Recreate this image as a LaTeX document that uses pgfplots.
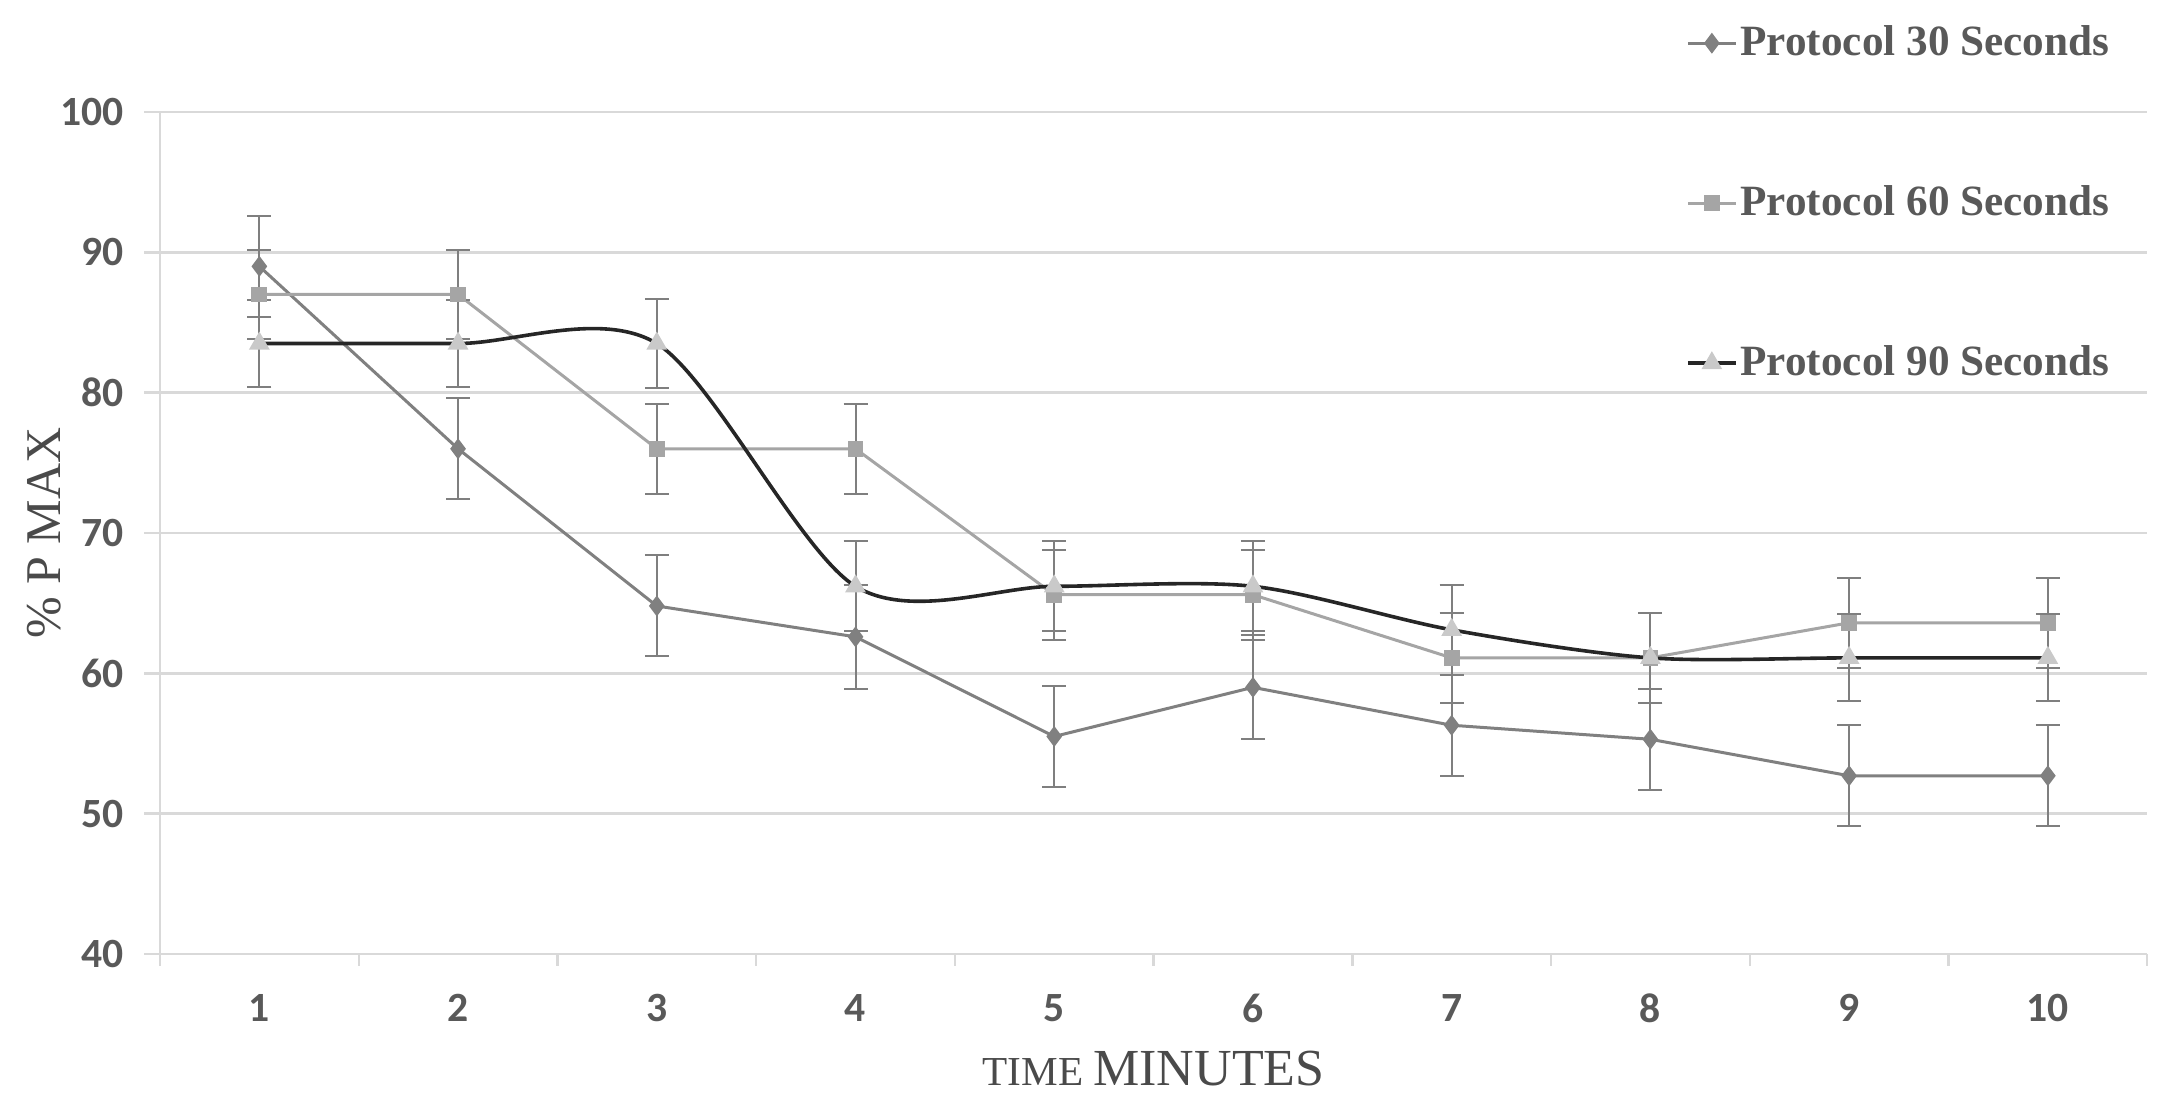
\documentclass[border=0pt]{standalone}
\usepackage{fontspec}
\setmainfont{Liberation Serif}
\newfontfamily\tickfont{Carlito}
\usepackage{pgfplots}
\pgfplotsset{compat=1.18}
\definecolor{txtgray}{HTML}{595959}
\definecolor{titlegray}{HTML}{4A4A4A}
\definecolor{gridgray}{HTML}{D9D9D9}
\definecolor{sthirty}{HTML}{808080}
\definecolor{ssixty}{HTML}{A5A5A5}
\definecolor{sninety}{HTML}{262626}
\definecolor{triface}{HTML}{C9C9C9}
\definecolor{errgray}{HTML}{7F7F7F}
\begin{document}
\begin{tikzpicture}
\useasboundingbox (-40pt,-39.5pt) rectangle (501.25pt,238.5pt);
\begin{axis}[
  scale only axis, width=496.8pt, height=210.5pt,
  xmin=0.5, xmax=10.5, ymin=40, ymax=100,
  xtick={1,...,10}, minor xtick={0.5,1.5,...,10.5},
  ytick={40,50,...,100},
  ymajorgrids, grid style={gridgray, line width=0.6pt},
  axis x line*=bottom, axis y line*=left,
  axis line style={gridgray, line width=0.6pt, -},
  tick align=outside,
  major x tick style={draw=none},
  minor x tick style={gridgray, line width=0.6pt},
  ytick style={gridgray, line width=0.6pt},
  major tick length=4pt, minor tick length=3pt,
  /pgf/number format/assume math mode=true,
  ticklabel style={font=\tickfont\bfseries\fontsize{10.4}{12}\selectfont, text=txtgray},
  yticklabel style={xshift=-1.6pt},
  xticklabel style={yshift=-2.5pt},
  xlabel={{\fontsize{10.3}{12}\selectfont TIME} {\fontsize{13}{14}\selectfont MINUTES}},
  xlabel style={at={(axis description cs:0.5,-0.136)}, anchor=center, text=titlegray},
  ylabel={\fontsize{12.5}{14}\selectfont \% P MAX},
  ylabel style={at={(axis description cs:-0.0584,0.5)}, anchor=center, text=titlegray},
  legend image code/.code={\draw[mark repeat=2,mark phase=2,#1] plot coordinates {(0pt,0pt) (6pt,0pt) (12pt,0pt)};},
  legend style={at={(axis description cs:0.7615,1.123)}, anchor=north west, draw=none, fill=none,
    font=\bfseries\fontsize{10.8}{12}\selectfont, text=txtgray, row sep=27pt,
    /tikz/every odd column/.append style={column sep=-1.3pt}},
  legend cell align=left,
]
\addplot[sthirty, line width=0.75pt, mark=diamond*, mark size=2pt, mark options={fill=sthirty, draw=sthirty},
  error bars/.cd, y dir=both, y explicit,
  error bar style={errgray, line width=0.5pt},
  error mark options={errgray, rotate=90, mark size=3pt, line width=0.5pt}]
  table[x=x, y=y, y error=e] {
x y e
1 89.0 3.6
2 76.0 3.6
3 64.8 3.6
4 62.6 3.7
5 55.5 3.6
6 59.0 3.7
7 56.3 3.6
8 55.3 3.6
9 52.7 3.6
10 52.7 3.6
};
\addlegendentry{Protocol 30 Seconds}
\addplot[ssixty, line width=0.75pt, mark=square*, mark size=1.6pt, mark options={fill=ssixty, draw=ssixty},
  error bars/.cd, y dir=both, y explicit,
  error bar style={errgray, line width=0.5pt},
  error mark options={errgray, rotate=90, mark size=3pt, line width=0.5pt}]
  table[x=x, y=y, y error=e] {
x y e
1 87.0 3.2
2 87.0 3.2
3 76.0 3.2
4 76.0 3.2
5 65.6 3.2
6 65.6 3.2
7 61.1 3.2
8 61.1 3.2
9 63.6 3.2
10 63.6 3.2
};
\addlegendentry{Protocol 60 Seconds}
\addplot[sninety, line width=0.9pt, smooth, mark=triangle*, mark size=2.1pt, mark options={fill=triface, draw=triface},
  error bars/.cd, y dir=both, y explicit,
  error bar style={errgray, line width=0.5pt},
  error mark options={errgray, rotate=90, mark size=3pt, line width=0.5pt}]
  table[x=x, y=y, y error=e] {
x y e
1 83.5 3.1
2 83.5 3.1
3 83.5 3.2
4 66.2 3.2
5 66.2 3.2
6 66.2 3.2
7 63.1 3.2
8 61.1 3.2
9 61.1 3.1
10 61.1 3.1
};
\addlegendentry{Protocol 90 Seconds}
\end{axis}
\end{tikzpicture}
\end{document}
